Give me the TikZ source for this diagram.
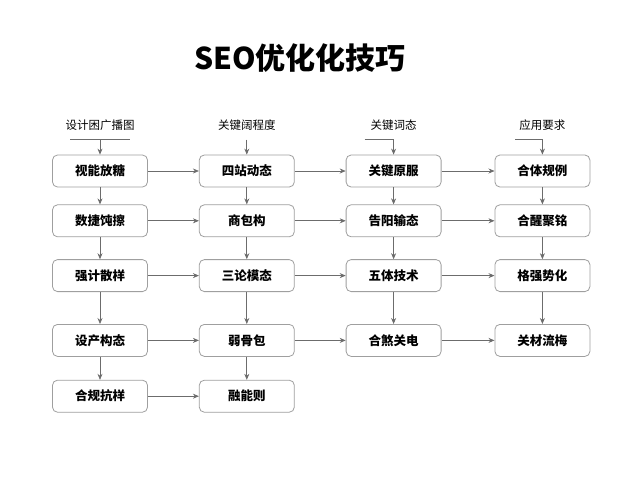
\documentclass[tikz,border=0pt]{standalone}
\usepackage{fontspec}
\setmainfont{Noto Sans CJK SC}
\usetikzlibrary{arrows.meta, positioning, calc}

\begin{document}
\begin{tikzpicture}[
    x=1pt, y=-1pt,
    box/.style={rectangle, draw=gray!75, fill=white, line width=0.8pt, rounded corners=5pt,
        minimum width=95pt, minimum height=32pt, inner sep=0pt,
        font=\fontsize{12.5}{15}\selectfont\bfseries},
    head/.style={inner sep=0pt, font=\fontsize{11.5}{14}\selectfont},
    line/.style={draw=gray!85!black, line width=0.7pt},
    arrow/.style={line, -{Stealth[length=6pt, width=5pt]}}
]
\useasboundingbox (0,0) rectangle (640,480);

% Title
\node[font=\fontsize{30}{34}\selectfont\bfseries] (title) at (300,58) {SEO优化化技巧};

% Row 1
\node[box] (v1) at (100,171) {视能放糖};
\node[box, right=51pt of v1] (s1) {四站动态};
\node[box, right=51pt of s1] (g1) {关键原服};
\node[box, right=53pt of g1] (y1) {合体规例};

% Headers
\node[head, above=24pt of v1] (h1) {设计困广播图};
\node[head, above=24pt of s1] (h2) {关键阔程度};
\node[head, above=24pt of g1] (h3) {关键词态};
\node[head, above=24pt of y1] (h4) {应用要求};
\coordinate[above=15pt of v1.north] (t1);
\coordinate[above=15pt of s1.north] (t2);
\coordinate[above=15pt of g1.north] (t3);
\coordinate[above=15pt of y1.north] (t4);

% Column 1
\node[box, below=17pt of v1] (v2) {数捷饨擦};
\node[box, below=22pt of v2] (v3) {强计散样};
\node[box, below=32pt of v3] (v4) {设产构态};
\node[box, below=23pt of v4] (v5) {合规抗样};

% Column 2
\node[box, below=17pt of s1] (s2) {商包构};
\node[box, below=22pt of s2] (s3) {三论模态};
\node[box, below=32pt of s3] (s4) {弱骨包};
\node[box, below=23pt of s4] (s5) {融能则};

% Column 3
\node[box, below=17pt of g1] (g2) {告阳输态};
\node[box, below=22pt of g2] (g3) {五体技术};
\node[box, below=32pt of g3] (g4) {合煞关电};

% Column 4
\node[box, below=17pt of y1] (y2) {合醒聚铭};
\node[box, below=22pt of y2] (y3) {格强势化};
\node[box, below=32pt of y3] (y4) {关材流梅};

% Header arrows
\draw[line] ([xshift=-30pt]t1) -- ([xshift=30pt]t1);
\draw[arrow] (t1) -- (v1);
\draw[arrow] (t2) -- (s1);
\draw[arrow] ([xshift=-29pt]t3) -| (g1);
\draw[arrow] ([xshift=-27pt]t4) -| (y1);

% Vertical arrows
\foreach \c/\n in {v/5, s/5, g/4, y/4} {
    \foreach \i [remember=\i as \j (initially 1)] in {2,...,\n}
        \draw[arrow] (\c\j) -- (\c\i);
}

% Horizontal arrows
\foreach \r in {1,2,3,4} {
    \draw[arrow] (v\r) -- (s\r);
    \draw[arrow] (s\r) -- (g\r);
    \draw[arrow] (g\r) -- (y\r);
}
\draw[arrow] (v5) -- (s5);

\end{tikzpicture}
\end{document}
